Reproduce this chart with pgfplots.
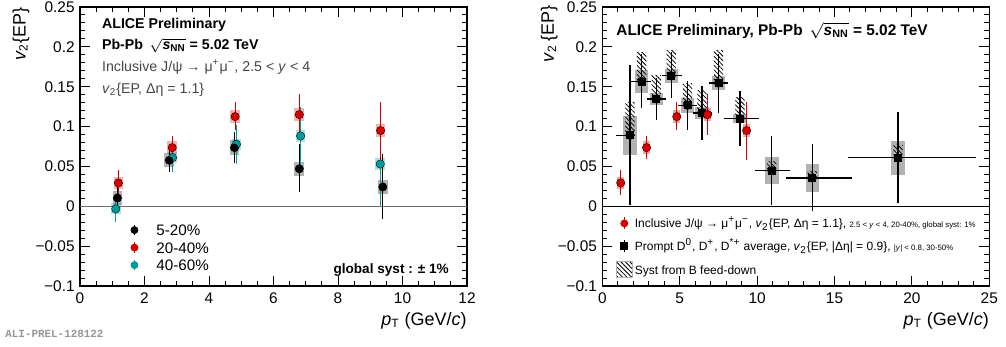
\documentclass[border=0pt]{standalone}
\usepackage{fontspec}
\setmainfont{Liberation Sans}
\newfontfamily\monofont{Liberation Mono}
\usepackage{pgfplots}
\pgfplotsset{compat=1.18}
\usepackage{pgfplotstable}
\usetikzlibrary{patterns.meta}

\definecolor{jred}{RGB}{215,0,0}
\definecolor{jteal}{RGB}{0,155,155}
\definecolor{hdrgray}{RGB}{70,70,70}
\definecolor{zgray}{RGB}{110,110,110}
\definecolor{dgray}{RGB}{178,178,178}

\newcommand{\vtwo}{\textit{v}\textsubscript{2}}
\newcommand{\fs}[1]{\fontsize{#1}{#1}\selectfont}

\pgfplotstableread{
x y ep em s
1.16 0.0104 0.012 0.012 0.009
2.77 0.0577 0.013 0.0127 0.009
4.79 0.0736 0.0174 0.0176 0.009
6.80 0.0470 0.0287 0.0270 0.009
9.39 0.0242 0.0394 0.0384 0.009
}\blacktab
\pgfplotstableread{
x y ep em s
1.19 0.0293 0.0137 0.0133 0.008
2.86 0.0736 0.0117 0.0116 0.008
4.81 0.1125 0.0155 0.0150 0.008
6.80 0.1150 0.0230 0.0230 0.008
9.32 0.0950 0.0340 0.0350 0.008
}\redtab
\pgfplotstableread{
x y ep em s
1.11 -0.0033 0.0147 0.0147 0.007
2.87 0.0610 0.0162 0.0162 0.007
4.85 0.0778 0.0224 0.0224 0.007
6.84 0.0882 0.0344 0.0344 0.007
9.31 0.0530 0.0508 0.0508 0.007
}\tealtab
\pgfplotstableread{
x y xl xh ep em s
1.79 0.0890 1 2 0.0856 0.0850 0.0245
2.54 0.1566 2 3 0.0324 0.0316 0.0140
3.49 0.1345 3 4 0.0245 0.0245 0.0080
4.46 0.1637 4 5 0.0270 0.0260 0.0090
5.50 0.1266 5 6 0.0280 0.0290 0.0090
6.44 0.1170 6 7 0.0320 0.0310 0.0070
7.50 0.1546 7 8 0.0344 0.0350 0.0085
8.90 0.1100 8 10 0.0320 0.0315 0.0060
10.95 0.0447 10 12 0.0410 0.0407 0.0170
13.56 0.0355 12 16 0.0405 0.0395 0.0170
19.10 0.0610 16 24 0.0547 0.0550 0.0215
}\Dtab

\pgfplotsset{
 alice/.style={
  scale only axis, width=193.5pt, height=139.5pt,
  ymin=-0.1, ymax=0.25,
  ytick={-0.1,-0.05,0,0.05,0.1,0.15,0.2,0.25},
  yticklabels={−0.1,−0.05,0,0.05,0.1,0.15,0.2,0.25},
  minor y tick num=4,
  tick align=inside, tick pos=both,
  major tick length=5pt, minor tick length=2.5pt,
  tick style={black, line width=0.5pt},
  axis line style={line width=0.7pt},
  tick label style={font=\fs{7.7}},
  yticklabel style={inner sep=0pt, xshift=-2.5pt},
  xticklabel style={inner sep=0pt, yshift=-3.15pt},
  label style={font=\fs{9}},
  xlabel={\textit{p}\textsubscript{T} (GeV/\textit{c})},
  xlabel style={at={(axis description cs:1,0)}, anchor=north east, inner sep=0pt, yshift=-13pt},
 },
 syst/.style n args={2}{forget plot, only marks, mark=none,
   error bars/.cd, y dir=both, y explicit, error mark=none,
   error bar style={line width=#1, #2}},
 stat/.style n args={2}{forget plot, only marks, mark=#2, mark size=1.75pt, color=#1,
   error bars/.cd, y dir=both, y explicit, error mark=-,
   error mark options={mark size=0.9pt, line width=0.6pt, #1},
   error bar style={line width=0.6pt, #1}},
 hatch/.style={forget plot, draw=none, mark=none, pattern={Lines[angle=-45,distance=1.6pt,line width=0.4pt]}},
}

\begin{document}
\begin{tikzpicture}
\useasboundingbox (0,0) rectangle (503pt,173.5pt);

% ---------------- left panel ----------------
\begin{axis}[alice, at={(40pt,30.5pt)}, anchor=south west,
 xmin=0, xmax=12, xtick={0,2,4,6,8,10,12}, xticklabels={0,2,4,6,8,10,12}, minor x tick num=3,
 ylabel={\vtwo\{EP\}},
 ylabel style={at={(axis description cs:-0.13,1)}, anchor=south east, inner sep=0pt},
 legend cell align=left,
 legend style={at={(axis description cs:0.119,0.2305)}, anchor=north west, draw=none, fill=none,
   inner sep=0pt, font=\fs{7.6}, nodes={inner sep=0pt, text height=5.5pt, text depth=0pt},
   row sep=0.75pt, column sep=0pt},
]
\addplot[forget plot, zgray, line width=0.6pt] coordinates {(0,0) (12,0)};
\addplot[syst={4.84pt}{black, opacity=0.3}] table[x=x, y=y, y error=s] {\blacktab};
\addplot[syst={4.84pt}{jred, opacity=0.3}] table[x=x, y=y, y error=s] {\redtab};
\addplot[syst={4.84pt}{jteal, opacity=0.3}] table[x=x, y=y, y error=s] {\tealtab};
\addplot[stat={jteal}{*}] table[x=x, y=y, y error plus=ep, y error minus=em] {\tealtab};
\addplot[stat={black}{*}] table[x=x, y=y, y error plus=ep, y error minus=em] {\blacktab};
\addplot[stat={jred}{*}] table[x=x, y=y, y error plus=ep, y error minus=em] {\redtab};

\addlegendimage{legend image code/.code={\path[draw=none,fill=none] (-4pt,-4pt) rectangle (11pt,4pt);
  \draw[black,line width=0.6pt] (0,-2.6pt)--(0,2.6pt); \fill[black] (0,0) circle (1.75pt);}}
\addlegendentry{5-20\%}
\addlegendimage{legend image code/.code={\path[draw=none,fill=none] (-4pt,-4pt) rectangle (11pt,4pt);
  \draw[jred,line width=0.6pt] (0,-2.6pt)--(0,2.6pt); \fill[jred] (0,0) circle (1.75pt);}}
\addlegendentry{20-40\%}
\addlegendimage{legend image code/.code={\path[draw=none,fill=none] (-4pt,-4pt) rectangle (11pt,4pt);
  \draw[jteal,line width=0.6pt] (0,-2.6pt)--(0,2.6pt); \fill[jteal] (0,0) circle (1.75pt);}}
\addlegendentry{40-60\%}

\node[anchor=base west, font={\fs{7.1}\bfseries}, inner sep=0pt] at (axis description cs:0.056,0.9237) {ALICE Preliminary};
\node[anchor=base west, font={\fs{7.1}\bfseries}, inner sep=0pt] at (axis description cs:0.056,0.848) {Pb-Pb \,$\sqrt{\hbox{\textit{s}\textsubscript{NN}}}$ = 5.02 TeV};
\node[anchor=base west, font={\fs{7.1}}, text=hdrgray, inner sep=0pt] at (axis description cs:0.056,0.768) {Inclusive J/ψ → μ\textsuperscript{+}μ\textsuperscript{−}, 2.5 < \textit{y} < 4};
\node[anchor=base west, font={\fs{7.1}}, text=hdrgray, inner sep=0pt] at (axis description cs:0.056,0.691) {\vtwo\{EP, Δη = 1.1\}};
\node[anchor=base east, font={\fs{6.8}\bfseries}, inner sep=0pt] at (axis description cs:0.954,0.0455) {global syst : ± 1\%};
\end{axis}

% ---------------- right panel ----------------
\begin{axis}[alice, at={(301.15pt,30.5pt)}, anchor=south west,
 xmin=0, xmax=25, xtick={0,5,10,15,20,25}, xticklabels={0,5,10,15,20,25}, minor x tick num=4,
 ylabel={\vtwo\,\{EP\}},
 ylabel style={at={(axis description cs:-0.1146,1.007)}, anchor=south east, inner sep=0pt},
 legend cell align=left,
 legend style={at={(axis description cs:0.034,0.2545)}, anchor=north west, draw=none, fill=none,
   inner sep=0pt, font=\fs{6}, nodes={inner sep=0pt, text height=4.4pt, text depth=0pt},
   row sep=3.5pt, column sep=0pt},
]
\addplot[forget plot, black, line width=0.6pt] coordinates {(0,0) (25,0)};
\addplot[syst={6.7pt}{dgray}] table[x=x, y=y, y error=s] {\Dtab};
\addplot[hatch] coordinates {(1.49,0.089) (2.09,0.089) (2.09,0.130) (1.49,0.130)};
\addplot[hatch] coordinates {(2.24,0.1566) (2.84,0.1566) (2.84,0.193) (2.24,0.193)};
\addplot[hatch] coordinates {(3.19,0.1345) (3.79,0.1345) (3.79,0.164) (3.19,0.164)};
\addplot[hatch] coordinates {(4.16,0.1637) (4.76,0.1637) (4.76,0.196) (4.16,0.196)};
\addplot[hatch] coordinates {(5.20,0.1266) (5.80,0.1266) (5.80,0.1546) (5.20,0.1546)};
\addplot[hatch] coordinates {(6.14,0.117) (6.74,0.117) (6.74,0.145) (6.14,0.145)};
\addplot[hatch] coordinates {(7.20,0.1546) (7.80,0.1546) (7.80,0.196) (7.20,0.196)};
\addplot[hatch] coordinates {(8.60,0.110) (9.20,0.110) (9.20,0.137) (8.60,0.137)};
\addplot[hatch] coordinates {(10.65,0.0447) (11.25,0.0447) (11.25,0.056) (10.65,0.056)};
\addplot[hatch] coordinates {(13.26,0.0355) (13.86,0.0355) (13.86,0.044) (13.26,0.044)};
\addplot[hatch] coordinates {(18.80,0.061) (19.40,0.061) (19.40,0.076) (18.80,0.076)};
\addplot[syst={3.3pt}{jred, opacity=0.35}] table[x=x, y=y, y error=s] {\redtab};
\addplot[forget plot, only marks, mark=square*, mark size=1.75pt, black,
   error bars/.cd, x dir=both, x explicit, y dir=both, y explicit, error mark=-,
   error mark options={mark size=0.9pt, line width=0.6pt, black},
   error bar style={line width=0.6pt, black}]
   table[x=x, y=y, x error plus expr=\thisrow{xh}-\thisrow{x}, x error minus expr=\thisrow{x}-\thisrow{xl},
         y error plus=ep, y error minus=em] {\Dtab};
\addplot[stat={jred}{*}] table[x=x, y=y, y error plus=ep, y error minus=em] {\redtab};

\addlegendimage{legend image code/.code={\path[draw=none,fill=none] (-4.25pt,-4pt) rectangle (5.25pt,4pt);
  \draw[jred,line width=0.6pt] (0,-3pt)--(0,3pt); \fill[jred] (0,0) circle (1.75pt);}}
\addlegendentry{Inclusive J/ψ → μ\textsuperscript{+}μ\textsuperscript{−}, \vtwo\{EP, Δη = 1.1\}, {\fs{3.9}2.5 < \textit{y} < 4, 20-40\%, global syst: 1\%}}
\addlegendimage{legend image code/.code={\path[draw=none,fill=none] (-4.25pt,-4pt) rectangle (5.25pt,4pt);
  \draw[black,line width=0.6pt] (0,-3pt)--(0,3pt); \fill[black] (-1.75pt,-1.75pt) rectangle (1.75pt,1.75pt);}}
\addlegendentry{Prompt D\textsuperscript{0}, D\textsuperscript{+}, D\textsuperscript{*+} average, \vtwo\{EP, |Δη| = 0.9\}, {\fs{3.9}|\textit{y}| < 0.8, 30-50\%}}
\addlegendimage{legend image code/.code={\path[draw=none,fill=none] (-4.25pt,-4pt) rectangle (5.25pt,4pt);
  \draw[dgray, line width=0.5pt, pattern={Lines[angle=-45,distance=1.6pt,line width=0.4pt]}] (-4pt,-4pt) rectangle (4pt,4pt);}}
\addlegendentry{Syst from B feed-down}

\node[anchor=base west, font={\fs{7.7}\bfseries}, inner sep=0pt] at (axis description cs:0.0354,0.8996) {ALICE Preliminary, Pb-Pb \,$\sqrt{\hbox{\textit{s}\textsubscript{NN}}}$ = 5.02 TeV};
\end{axis}

\node[anchor=base west, inner sep=0pt, font={\monofont\bfseries\fs{5.45}}, text={rgb,255:red,150;green,150;blue,150}] at (2.5pt,4.5pt) {ALI-PREL-128122};
\end{tikzpicture}
\end{document}
